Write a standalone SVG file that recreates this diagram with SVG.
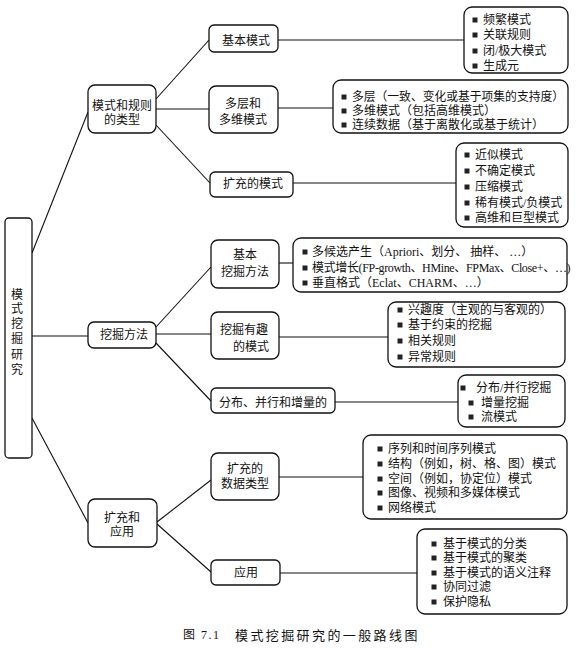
<svg xmlns="http://www.w3.org/2000/svg" width="579" height="648" viewBox="0 0 579 648">
<style>
  .box { fill: #fff; stroke: #111; stroke-width: 1.3; }
  .lst { fill: #fff; stroke: #111; stroke-width: 1.3; }
  .con { stroke: #111; stroke-width: 1.1; fill: none; }
  text { font-family: "Liberation Serif", "Noto Sans CJK SC", serif; font-size: 12px; fill: #111; dominant-baseline: central; }
  .c { text-anchor: middle; }
  .b { fill: #222; }
  .cap { font-size: 13px; letter-spacing: 2.4px; }
</style>
<defs>
  <rect id="bul" x="-2.5" y="-2.5" width="5" height="5" class="b"/>
</defs>
<rect width="579" height="648" fill="#fff"/>

<g id="connectors">
  <line class="con" x1="32" y1="253" x2="88" y2="112"/>
  <line class="con" x1="32" y1="336" x2="88" y2="336"/>
  <line class="con" x1="32" y1="418" x2="88" y2="523"/>
  <line class="con" x1="156" y1="99" x2="209" y2="40"/>
  <line class="con" x1="156" y1="109" x2="209" y2="109"/>
  <line class="con" x1="156" y1="125" x2="210" y2="183"/>
  <line class="con" x1="156" y1="327" x2="211" y2="267"/>
  <line class="con" x1="156" y1="334" x2="211" y2="334"/>
  <line class="con" x1="156" y1="343" x2="211" y2="401"/>
  <line class="con" x1="157" y1="522" x2="211" y2="480"/>
  <line class="con" x1="157" y1="524" x2="211" y2="572"/>
  <line class="con" x1="278" y1="40" x2="464" y2="40"/>
  <line class="con" x1="278" y1="108" x2="333" y2="108"/>
  <line class="con" x1="293" y1="183" x2="456" y2="183"/>
  <line class="con" x1="279" y1="263" x2="293" y2="263"/>
  <line class="con" x1="279" y1="337" x2="388" y2="337"/>
  <line class="con" x1="335" y1="402" x2="458" y2="402"/>
  <line class="con" x1="279" y1="477" x2="363" y2="477"/>
  <line class="con" x1="280" y1="573" x2="417" y2="573"/>
</g>

<g id="root">
  <rect class="box" x="5" y="218" width="27" height="240" rx="4"/>
  <text class="c" x="17" y="295">模</text>
  <text class="c" x="17" y="309">式</text>
  <text class="c" x="17" y="324">挖</text>
  <text class="c" x="17" y="339">掘</text>
  <text class="c" x="17" y="355">研</text>
  <text class="c" x="17" y="370">究</text>
</g>

<g id="n-types">
  <rect class="box" x="88" y="85" width="68" height="48" rx="7"/>
  <text class="c" x="122" y="106">模式和规则</text>
  <text class="c" x="122" y="120">的类型</text>
</g>
<g id="n-methods">
  <rect class="box" x="88" y="322" width="68" height="26" rx="6"/>
  <text class="c" x="124" y="335">挖掘方法</text>
</g>
<g id="n-ext">
  <rect class="box" x="88" y="499" width="69" height="48" rx="7"/>
  <text class="c" x="122" y="518">扩充和</text>
  <text class="c" x="122" y="532">应用</text>
</g>

<g id="n-basic">
  <rect class="box" x="209" y="25" width="69" height="27" rx="5"/>
  <text class="c" x="246" y="41">基本模式</text>
</g>
<g id="n-multi">
  <rect class="box" x="209" y="86" width="69" height="47" rx="7"/>
  <text class="c" x="243" y="104">多层和</text>
  <text class="c" x="243" y="120">多维模式</text>
</g>
<g id="n-extpat">
  <rect class="box" x="210" y="172" width="83" height="25" rx="5"/>
  <text class="c" x="253" y="184">扩充的模式</text>
</g>
<g id="n-basicmine">
  <rect class="box" x="211" y="240" width="68" height="48" rx="7"/>
  <text class="c" x="245" y="255">基本</text>
  <text class="c" x="245" y="272">挖掘方法</text>
</g>
<g id="n-interest">
  <rect class="box" x="211" y="312" width="68" height="47" rx="7"/>
  <text class="c" x="244" y="330">挖掘有趣</text>
  <text class="c" x="251" y="347">的模式</text>
</g>
<g id="n-dist">
  <rect class="box" x="211" y="388" width="124" height="25" rx="5"/>
  <text class="c" x="273" y="403">分布、并行和增量的</text>
</g>
<g id="n-exttype">
  <rect class="box" x="211" y="453" width="68" height="47" rx="7"/>
  <text class="c" x="245" y="469">扩充的</text>
  <text class="c" x="245" y="484">数据类型</text>
</g>
<g id="n-app">
  <rect class="box" x="211" y="560" width="69" height="25" rx="5"/>
  <text class="c" x="246" y="573">应用</text>
</g>

<g id="l-basic">
  <rect class="lst" x="464" y="7" width="104" height="66" rx="8"/>
  <use href="#bul" x="475" y="20"/><text x="483" y="20">频繁模式</text>
  <use href="#bul" x="475" y="35"/><text x="483" y="35">关联规则</text>
  <use href="#bul" x="475" y="51"/><text x="483" y="51">闭/极大模式</text>
  <use href="#bul" x="475" y="66"/><text x="483" y="66">生成元</text>
</g>
<g id="l-multi">
  <rect class="lst" x="333" y="80" width="235" height="53" rx="8"/>
  <use href="#bul" x="344" y="97"/><text x="352" y="97" textLength="212" lengthAdjust="spacingAndGlyphs">多层（一致、变化或基于项集的支持度）</text>
  <use href="#bul" x="344" y="111"/><text x="352" y="111">多维模式（包括高维模式）</text>
  <use href="#bul" x="344" y="125"/><text x="352" y="125">连续数据（基于离散化或基于统计）</text>
</g>
<g id="l-extpat">
  <rect class="lst" x="456" y="143" width="112" height="84" rx="8"/>
  <use href="#bul" x="467" y="155"/><text x="475" y="155">近似模式</text>
  <use href="#bul" x="467" y="171"/><text x="475" y="171">不确定模式</text>
  <use href="#bul" x="467" y="187"/><text x="475" y="187">压缩模式</text>
  <use href="#bul" x="467" y="203"/><text x="475" y="203">稀有模式/负模式</text>
  <use href="#bul" x="467" y="218"/><text x="475" y="218">高维和巨型模式</text>
</g>
<g id="l-basicmine">
  <rect class="lst" x="293" y="238" width="274" height="54" rx="8"/>
  <use href="#bul" x="305" y="252"/><text x="312" y="252">多候选产生（Apriori、划分、 抽样、 …）</text>
  <use href="#bul" x="305" y="268"/><text x="312" y="268" font-size="10.5" letter-spacing="-0.35">模式增长(FP-growth、HMine、FPMax、Close+、…)</text>
  <use href="#bul" x="305" y="283"/><text x="312" y="283">垂直格式（Eclat、CHARM、…）</text>
</g>
<g id="l-interest">
  <rect class="lst" x="388" y="302" width="177" height="65" rx="8"/>
  <use href="#bul" x="400" y="310"/><text x="408" y="310">兴趣度（主观的与客观的）</text>
  <use href="#bul" x="400" y="325"/><text x="408" y="325">基于约束的挖掘</text>
  <use href="#bul" x="400" y="341"/><text x="408" y="341">相关规则</text>
  <use href="#bul" x="400" y="357"/><text x="408" y="357">异常规则</text>
</g>
<g id="l-dist">
  <rect class="lst" x="458" y="375" width="107" height="52" rx="8"/>
  <use href="#bul" x="463" y="388"/><text x="476" y="388">分布/并行挖掘</text>
  <use href="#bul" x="471" y="403"/><text x="481" y="403">增量挖掘</text>
  <use href="#bul" x="471" y="417"/><text x="481" y="417">流模式</text>
</g>
<g id="l-exttype">
  <rect class="lst" x="363" y="435" width="204" height="84" rx="8"/>
  <use href="#bul" x="380" y="449"/><text x="388" y="449">序列和时间序列模式</text>
  <use href="#bul" x="380" y="464"/><text x="388" y="464">结构（例如，树、格、图）模式</text>
  <use href="#bul" x="380" y="479"/><text x="388" y="479">空间（例如，协定位）模式</text>
  <use href="#bul" x="380" y="493"/><text x="388" y="493">图像、视频和多媒体模式</text>
  <use href="#bul" x="380" y="508"/><text x="388" y="508">网络模式</text>
</g>
<g id="l-app">
  <rect class="lst" x="417" y="529" width="150" height="85" rx="8"/>
  <use href="#bul" x="434" y="544"/><text x="443" y="544">基于模式的分类</text>
  <use href="#bul" x="434" y="558"/><text x="443" y="558">基于模式的聚类</text>
  <use href="#bul" x="434" y="573"/><text x="443" y="573">基于模式的语义注释</text>
  <use href="#bul" x="434" y="587"/><text x="443" y="587">协同过滤</text>
  <use href="#bul" x="434" y="602"/><text x="443" y="602">保护隐私</text>
</g>

<g id="caption">
  <text x="183" y="635" font-size="13" letter-spacing="1.5">图 7.1</text>
  <text class="cap" x="235" y="635">模式挖掘研究的一般路线图</text>
</g>
</svg>
